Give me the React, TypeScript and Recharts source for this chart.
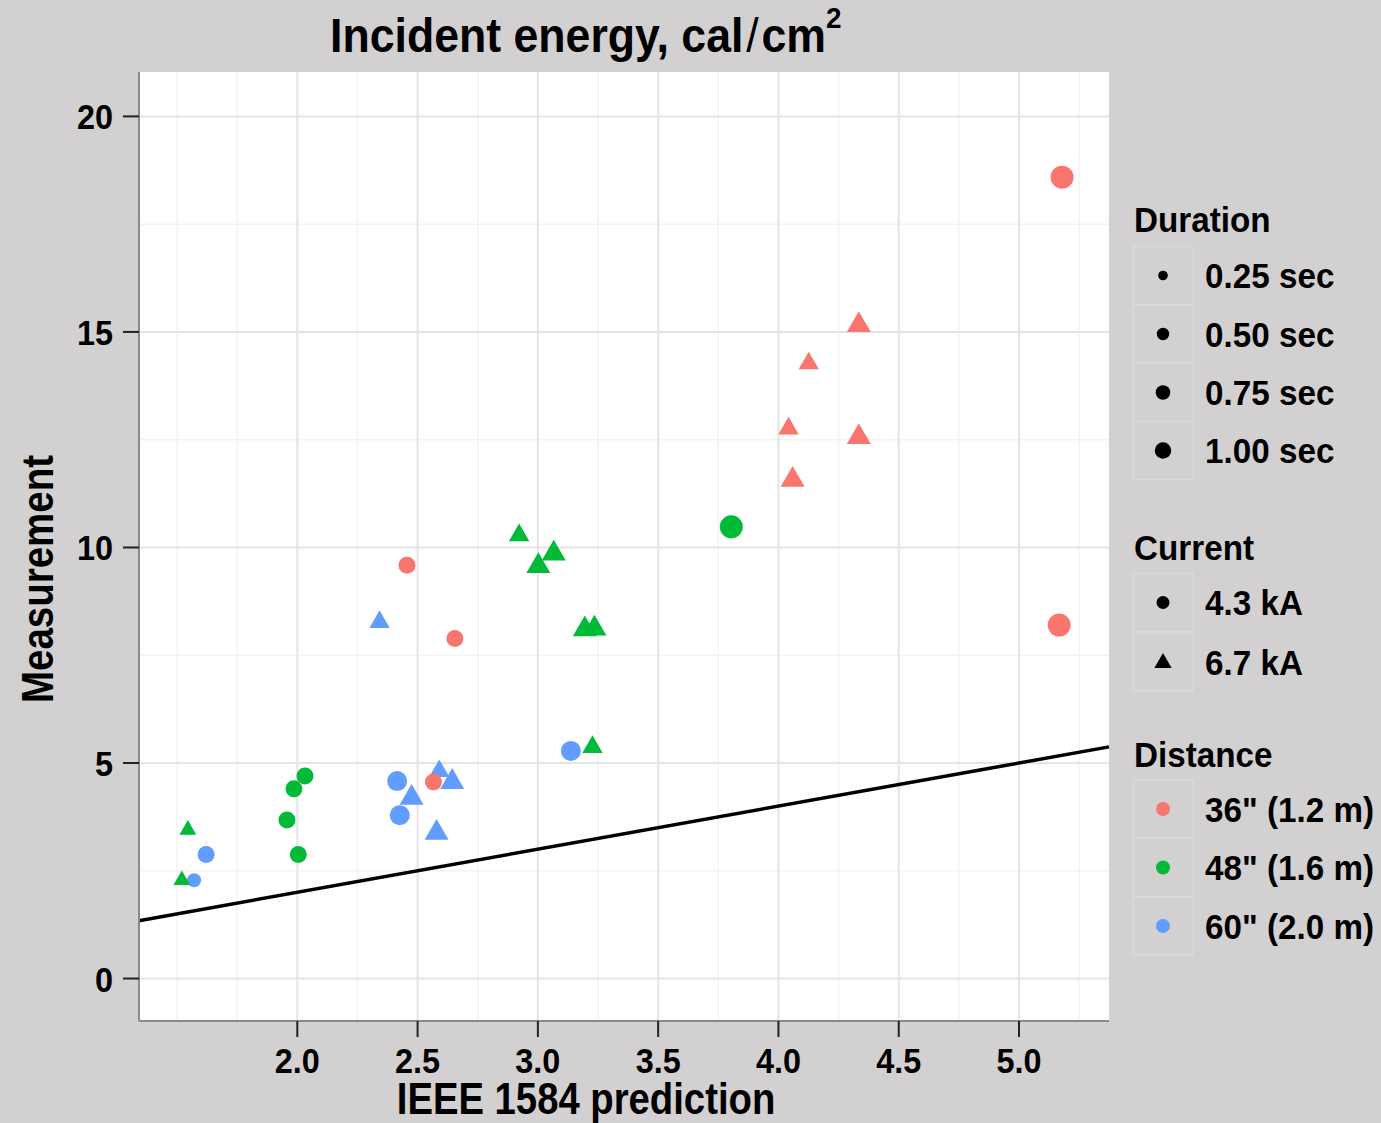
import React from 'react'
import { ScatterChart, Scatter, XAxis, YAxis, CartesianGrid, ReferenceLine } from 'recharts'

const BG = '#d3d0d1'
const FONT = "'Liberation Sans', Arial, Helvetica, sans-serif"

const distanceLabels = ['36" (1.2 m)', '48" (1.6 m)', '60" (2.0 m)']
const distanceColors = ['#F8766D', '#00BA38', '#619CFF']
const durations = [0.25, 0.5, 0.75, 1.0]
const durationLabels = ['0.25 sec', '0.50 sec', '0.75 sec', '1.00 sec']
const currents = [4.3, 6.7]
const currentLabels = ['4.3 kA', '6.7 kA']

const xTicks = [2.0, 2.5, 3.0, 3.5, 4.0, 4.5, 5.0]
const yTicks = [0, 5, 10, 15, 20]
const xMinor = [1.5, 1.75, 2.25, 2.75, 3.25, 3.75, 4.25, 4.75, 5.25]
const yMinor = [2.5, 7.5, 12.5, 17.5]

// [IEEE 1584 prediction, measurement, current kA, duration sec]
const pts36 = [
  [5.179, 18.59, 4.3, 1.0],
  [5.167, 8.2, 4.3, 1.0],
  [2.456, 9.59, 4.3, 0.5],
  [2.655, 7.89, 4.3, 0.5],
  [4.334, 15.16, 6.7, 0.75],
  [4.126, 14.27, 6.7, 0.5],
  [4.042, 12.76, 6.7, 0.5],
  [4.334, 12.56, 6.7, 0.75],
  [4.059, 11.57, 6.7, 0.75],
]
const pts48 = [
  [3.804, 10.48, 4.3, 1.0],
  [2.032, 4.7, 4.3, 0.5],
  [1.986, 4.4, 4.3, 0.5],
  [1.957, 3.68, 4.3, 0.5],
  [2.004, 2.88, 4.3, 0.5],
  [2.922, 10.28, 6.7, 0.5],
  [3.066, 9.86, 6.7, 0.75],
  [3.002, 9.57, 6.7, 0.75],
  [3.195, 8.1, 6.7, 0.75],
  [3.235, 8.12, 6.7, 0.75],
  [3.227, 5.37, 6.7, 0.5],
  [1.545, 3.45, 6.7, 0.25],
  [1.52, 2.28, 6.7, 0.25],
]
const pts60 = [
  [2.415, 4.58, 4.3, 0.75],
  [2.426, 3.79, 4.3, 0.75],
  [3.137, 5.28, 4.3, 0.75],
  [1.621, 2.88, 4.3, 0.5],
  [1.571, 2.28, 4.3, 0.25],
  [2.342, 8.27, 6.7, 0.5],
  [2.475, 4.19, 6.7, 0.75],
  [2.59, 4.81, 6.7, 0.5],
  [2.644, 4.56, 6.7, 0.75],
  [2.579, 3.38, 6.7, 0.75],
]
// the red 4.3 kA point sitting inside the blue cluster
const pts36b = [[2.566, 4.56, 4.3, 0.5]]

const X_MIN = 1.342
const X_MAX = 5.374
const Y_MIN = -0.985
const Y_MAX = 21.03

const radius: Record<number, number> = { 0.25: 7, 0.5: 8.5, 0.75: 10, 1.0: 11.5 }
const legendRadius: Record<number, number> = { 0.25: 4.8, 0.5: 6.2, 0.75: 7.3, 1.0: 8.2 }

const toRows = (pts: number[][]) => pts.map(([x, y, c, d]) => ({ x, y, c, d }))

function Marker({ cx, cy, r, tri, color }: { cx: number; cy: number; r: number; tri: boolean; color: string }) {
  if (!tri) return <circle cx={cx} cy={cy} r={r} fill={color} />
  const w = 2.4 * r
  const h = w * 0.866
  const pts = `${cx},${cy - (2 * h) / 3} ${cx + w / 2},${cy + h / 3} ${cx - w / 2},${cy + h / 3}`
  return <polygon points={pts} fill={color} />
}

const pointShape = (color: string) => (p: any) => {
  const d = p.payload
  return <Marker cx={p.cx} cy={p.cy} r={radius[d.d]} tri={d.c === currents[1]} color={color} />
}

// bold text squeezed horizontally, like the narrow Helvetica of the original
function Txt(props: {
  x: number
  y: number
  size: number
  sx?: number
  anchor?: 'start' | 'middle' | 'end'
  rotate?: number
  dy?: string
  children: React.ReactNode
}) {
  const { x, y, size, sx = 0.9, anchor = 'start', rotate = 0, dy, children } = props
  return (
    <g transform={`translate(${x},${y}) rotate(${rotate}) scale(${sx},1)`}>
      <text x={0} y={0} dy={dy} fontSize={size} fontFamily={FONT} fontWeight={700} fill="#000" textAnchor={anchor}>
        {children}
      </text>
    </g>
  )
}

const XTick = (p: any) => (
  <Txt x={p.x} y={p.y} size={36} anchor="middle" dy="0.72em">
    {Number(p.payload.value).toFixed(1)}
  </Txt>
)
const YTick = (p: any) => (
  <Txt x={p.x} y={p.y} size={36} anchor="end" dy="0.36em">
    {p.payload.value}
  </Txt>
)

function LegendKey({ y, children }: { y: number; children: React.ReactNode }) {
  return (
    <g>
      <rect x={1133} y={y - 29} width={60} height={58} fill={BG} stroke="#dad8d9" strokeWidth={1.5} />
      {children}
    </g>
  )
}

function Overlay() {
  const durY = [275.5, 334, 392.5, 450.5]
  const curY = [602.5, 662]
  const disY = [809, 867.5, 926]
  return (
    <svg width={1381} height={1123} style={{ position: 'absolute', left: 0, top: 0, pointerEvents: 'none' }}>
      <Txt x={330} y={52} size={48} sx={0.93}>
        Incident energy, cal
        <tspan fontWeight={400} dx={3}>/</tspan>
        <tspan dx={3}>cm</tspan>
        <tspan fontSize={30} dy={-24}>2</tspan>
      </Txt>
      <Txt x={586} y={1114} size={44} sx={0.87} anchor="middle">IEEE 1584 prediction</Txt>
      <Txt x={53} y={579} size={44} sx={0.875} anchor="middle" rotate={-90}>Measurement</Txt>

      <Txt x={1134} y={232} size={35} sx={0.95}>Duration</Txt>
      {durationLabels.map((lab, i) => (
        <LegendKey key={lab} y={durY[i]}>
          <circle cx={1163} cy={durY[i]} r={legendRadius[durations[i]]} fill="#000" />
          <Txt x={1205} y={durY[i]} size={35} sx={0.95} dy="0.36em">{lab}</Txt>
        </LegendKey>
      ))}

      <Txt x={1134} y={560} size={35} sx={0.95}>Current</Txt>
      {currentLabels.map((lab, i) => (
        <LegendKey key={lab} y={curY[i]}>
          <Marker cx={1163} cy={curY[i] + (i === 1 ? 1 : 0)} r={i === 0 ? 6.5 : 7.2} tri={i === 1} color="#000" />
          <Txt x={1205} y={curY[i]} size={35} sx={0.95} dy="0.36em">{lab}</Txt>
        </LegendKey>
      ))}

      <Txt x={1134} y={767} size={35} sx={0.95}>Distance</Txt>
      {distanceLabels.map((lab, i) => (
        <LegendKey key={lab} y={disY[i]}>
          <circle cx={1163} cy={disY[i]} r={7} fill={distanceColors[i]} />
          <Txt x={1205} y={disY[i]} size={35} sx={0.95} dy="0.36em">{lab}</Txt>
        </LegendKey>
      ))}
    </svg>
  )
}

export default function App() {
  return (
    <div style={{ position: 'absolute', left: 0, top: 0, width: 1381, height: 1123, background: BG, overflow: 'hidden' }}>
      <ScatterChart width={1381} height={1123} margin={{ top: 72, right: 272, bottom: 0, left: 0 }}>
        <CartesianGrid fill="#ffffff" horizontal={false} vertical={false} />
        {xMinor.map((v) => (
          <ReferenceLine key={'xm' + v} x={v} stroke="#f3f3f3" strokeWidth={1.5} />
        ))}
        {yMinor.map((v) => (
          <ReferenceLine key={'ym' + v} y={v} stroke="#f3f3f3" strokeWidth={1.5} />
        ))}
        {xTicks.map((v) => (
          <ReferenceLine key={'xM' + v} x={v} stroke="#e4e4e4" strokeWidth={2} />
        ))}
        {yTicks.map((v) => (
          <ReferenceLine key={'yM' + v} y={v} stroke="#e4e4e4" strokeWidth={2} />
        ))}
        <ReferenceLine
          segment={[
            { x: X_MIN, y: X_MIN },
            { x: X_MAX, y: X_MAX },
          ]}
          stroke="#000"
          strokeWidth={3.5}
        />
        <XAxis
          type="number"
          dataKey="x"
          domain={[X_MIN, X_MAX]}
          allowDataOverflow
          ticks={xTicks}
          height={102}
          tickSize={16}
          tickMargin={10}
          axisLine={{ stroke: '#8a8a8a', strokeWidth: 2 }}
          tickLine={{ stroke: '#222', strokeWidth: 2 }}
          tick={XTick}
        />
        <YAxis
          type="number"
          dataKey="y"
          domain={[Y_MIN, Y_MAX]}
          allowDataOverflow
          ticks={yTicks}
          width={139}
          tickSize={16}
          tickMargin={10}
          axisLine={{ stroke: '#8a8a8a', strokeWidth: 2 }}
          tickLine={{ stroke: '#222', strokeWidth: 2 }}
          tick={YTick}
        />
        <Scatter data={toRows(pts60)} shape={pointShape(distanceColors[2])} isAnimationActive={false} />
        <Scatter data={toRows(pts36b)} shape={pointShape(distanceColors[0])} isAnimationActive={false} />
        <Scatter data={toRows(pts48)} shape={pointShape(distanceColors[1])} isAnimationActive={false} />
        <Scatter data={toRows(pts36)} shape={pointShape(distanceColors[0])} isAnimationActive={false} />
      </ScatterChart>
      <Overlay />
    </div>
  )
}
